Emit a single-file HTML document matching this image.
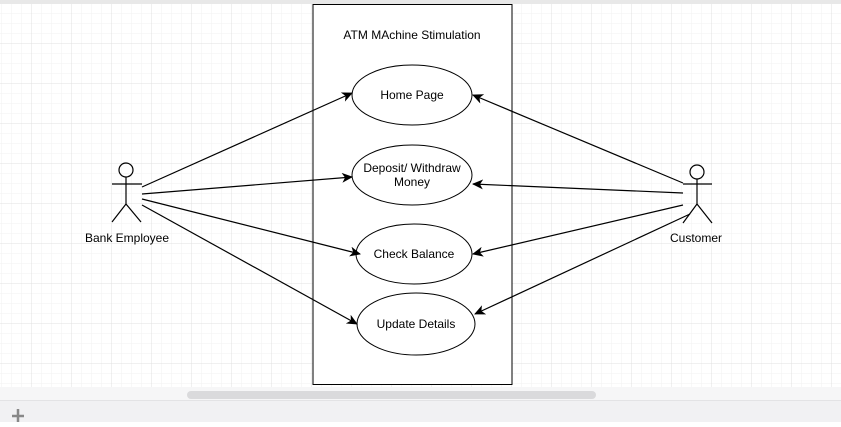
<!DOCTYPE html>
<html><head><style>
body{margin:0;width:841px;height:422px;overflow:hidden;background:#fff;font-family:"Liberation Sans",sans-serif;}
</style></head><body>
<svg width="841" height="422" xmlns="http://www.w3.org/2000/svg" font-family="Liberation Sans, sans-serif">
<defs>
<pattern id="minor" width="10" height="10" patternUnits="userSpaceOnUse" x="2" y="4"><path d="M10 0V10M0 10H10" stroke="#f2f2f2" stroke-width="1" fill="none"/></pattern>
<pattern id="major" width="40" height="40" patternUnits="userSpaceOnUse" x="-8" y="4"><path d="M40 0V40M0 40H40" stroke="#e0e0e0" stroke-width="1" fill="none"/></pattern>
<marker id="a" markerWidth="12" markerHeight="10" refX="10" refY="5" orient="auto" markerUnits="userSpaceOnUse"><path d="M0 0L11 5L0 10L3 5Z" fill="#000"/></marker>
</defs>
<rect width="841" height="400" fill="url(#minor)"/>
<rect width="841" height="400" fill="url(#major)"/>
<rect width="841" height="4" fill="#e8e8e8"/>
<rect x="0" y="387" width="841" height="13" fill="#f6f6f7"/>
<rect x="187" y="391" width="409" height="8" rx="4" fill="#dadadc"/>
<rect x="0" y="401" width="841" height="21" fill="#f1f1f3"/>
<line x1="0" y1="400.5" x2="841" y2="400.5" stroke="#e3e3e5"/>
<path d="M18 409V422M12 416H24" stroke="#888" stroke-width="2.5"/>
<rect x="313" y="4.5" width="199" height="380" fill="#fff" stroke="#000"/>
<text x="412" y="39" text-anchor="middle" font-size="12">ATM MAchine Stimulation</text>
<g fill="#fff" stroke="#000">
<ellipse cx="412" cy="95" rx="60" ry="30"/>
<ellipse cx="412" cy="175" rx="60" ry="30"/>
<ellipse cx="414" cy="254" rx="58" ry="30"/>
<ellipse cx="416" cy="324" rx="59" ry="31"/>
</g>
<g font-size="12" text-anchor="middle">
<text x="412" y="99">Home Page</text>
<text x="412" y="172">Deposit/ Withdraw</text>
<text x="412" y="186">Money</text>
<text x="414" y="258">Check Balance</text>
<text x="416" y="328">Update Details</text>
<text x="127" y="242">Bank Employee</text>
<text x="696" y="242">Customer</text>
</g>
<g stroke="#000" fill="none" stroke-width="1.2">
<circle cx="126" cy="170" r="7"/>
<path d="M126 177V204M112 184H142M126 204L112 222M126 204L141 222"/>
<circle cx="697" cy="172" r="7"/>
<path d="M697 179V204M683 184H712M697 204L683 223M697 204L712 223"/>
<g marker-end="url(#a)">
<line x1="142" y1="187" x2="352" y2="93"/>
<line x1="142" y1="194" x2="352" y2="177"/>
<line x1="142" y1="199" x2="360" y2="254"/>
<line x1="142" y1="205" x2="357" y2="324"/>
<line x1="683" y1="183" x2="473" y2="95"/>
<line x1="683" y1="193" x2="473" y2="184"/>
<line x1="683" y1="205" x2="473" y2="254"/>
<line x1="690" y1="214" x2="475" y2="314"/>
</g>
</g>
</svg>
</body></html>
